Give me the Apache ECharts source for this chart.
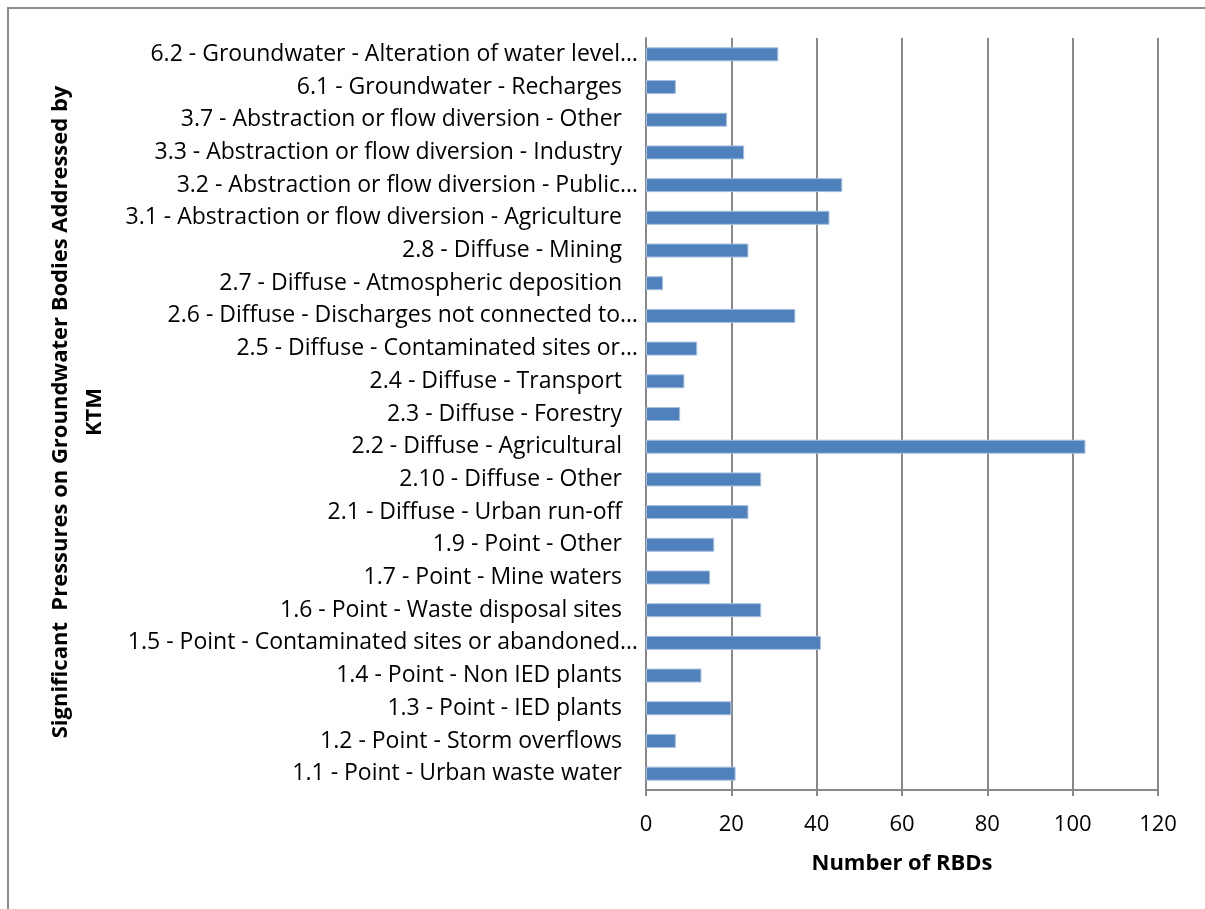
<!DOCTYPE html>
<html><head><meta charset="utf-8">
<script src="https://cdn.jsdelivr.net/npm/echarts@6/dist/echarts.min.js"></script>
<style>html,body{margin:0;padding:0;background:#fff}#c{width:1205px;height:909px}</style>
</head><body><div id="c"></div>
<script>
const categories = [
  "1.1 - Point - Urban waste water",
  "1.2 - Point - Storm overflows",
  "1.3 - Point - IED plants",
  "1.4 - Point - Non IED plants",
  "1.5 - Point - Contaminated sites or abandoned…",
  "1.6 - Point - Waste disposal sites",
  "1.7 - Point - Mine waters",
  "1.9 - Point - Other",
  "2.1 - Diffuse - Urban run-off",
  "2.10 - Diffuse - Other",
  "2.2 - Diffuse - Agricultural",
  "2.3 - Diffuse - Forestry",
  "2.4 - Diffuse - Transport",
  "2.5 - Diffuse - Contaminated sites or…",
  "2.6 - Diffuse - Discharges not connected to…",
  "2.7 - Diffuse - Atmospheric deposition",
  "2.8 - Diffuse - Mining",
  "3.1 - Abstraction or flow diversion - Agriculture",
  "3.2 - Abstraction or flow diversion - Public…",
  "3.3 - Abstraction or flow diversion - Industry",
  "3.7 - Abstraction or flow diversion - Other",
  "6.1 - Groundwater - Recharges",
  "6.2 - Groundwater - Alteration of water level…"
];
const values = [21, 7, 20, 13, 41, 27, 15, 16, 24, 27, 103, 8, 9, 12, 35, 4, 24, 43, 46, 23, 19, 7, 31];
const xTicks = { min: 0, max: 120, interval: 20 };
const xTitle = "Number of RBDs";
const yTitle = "Significant  Pressures on Groundwater Bodies Addressed by\nKTM";

const FONT = "'Open Sans', sans-serif";
const LBL = { fontFamily: FONT, fontSize: 23, color: '#000' };
const chart = echarts.init(document.getElementById('c'), null, {renderer: 'canvas'});
chart.setOption({
  animation: false,
  backgroundColor: '#fff',
  grid: { left: 646, top: 38, width: 512, height: 752, containLabel: false },
  xAxis: {
    type: 'value', min: xTicks.min, max: xTicks.max, interval: xTicks.interval,
    name: xTitle, nameLocation: 'middle', nameGap: 63,
    nameTextStyle: { fontFamily: FONT, fontWeight: 'bold', fontSize: 22, color: '#000' },
    axisLine: { show: true, lineStyle: { color: '#898989', width: 2 } },
    axisTick: { show: true, length: 6, lineStyle: { color: '#898989', width: 2 } },
    axisLabel: { fontFamily: FONT, fontSize: 22, color: '#000', margin: 24 },
    splitLine: { show: true, lineStyle: { color: '#898989', width: 2 } }
  },
  yAxis: {
    type: 'category', data: categories,
    axisLine: { show: true, lineStyle: { color: '#898989', width: 2 } },
    axisTick: { show: false },
    axisLabel: {
      fontFamily: FONT, fontSize: 23, color: '#000', margin: 24,
      formatter: function (v) {
        return v.endsWith('…') ? '{t|' + v.slice(0, -1) + '}{e|…}' : '{t|' + v + '}';
      },
      rich: {
        t: Object.assign({ align: 'left' }, LBL),
        e: Object.assign({ width: 2, align: 'left' }, LBL)
      }
    }
  },
  series: [{
    type: 'bar', data: values, barWidth: 14,
    itemStyle: { color: '#4F81BD', borderColor: '#a7bfdf', borderWidth: 1 }
  }],
  graphic: [
    { type: 'rect', shape: { x: 8, y: 8, width: 1220, height: 940 }, style: { fill: 'none', stroke: '#8c8c8c', lineWidth: 2 }, silent: true },
    { type: 'text', x: 78, y: 412, rotation: Math.PI / 2,
      style: { text: yTitle, fontFamily: FONT, fontWeight: 'bold', fontSize: 22, fill: '#000', align: 'center', verticalAlign: 'middle', lineHeight: 34 } }
  ]
});
</script></body></html>
